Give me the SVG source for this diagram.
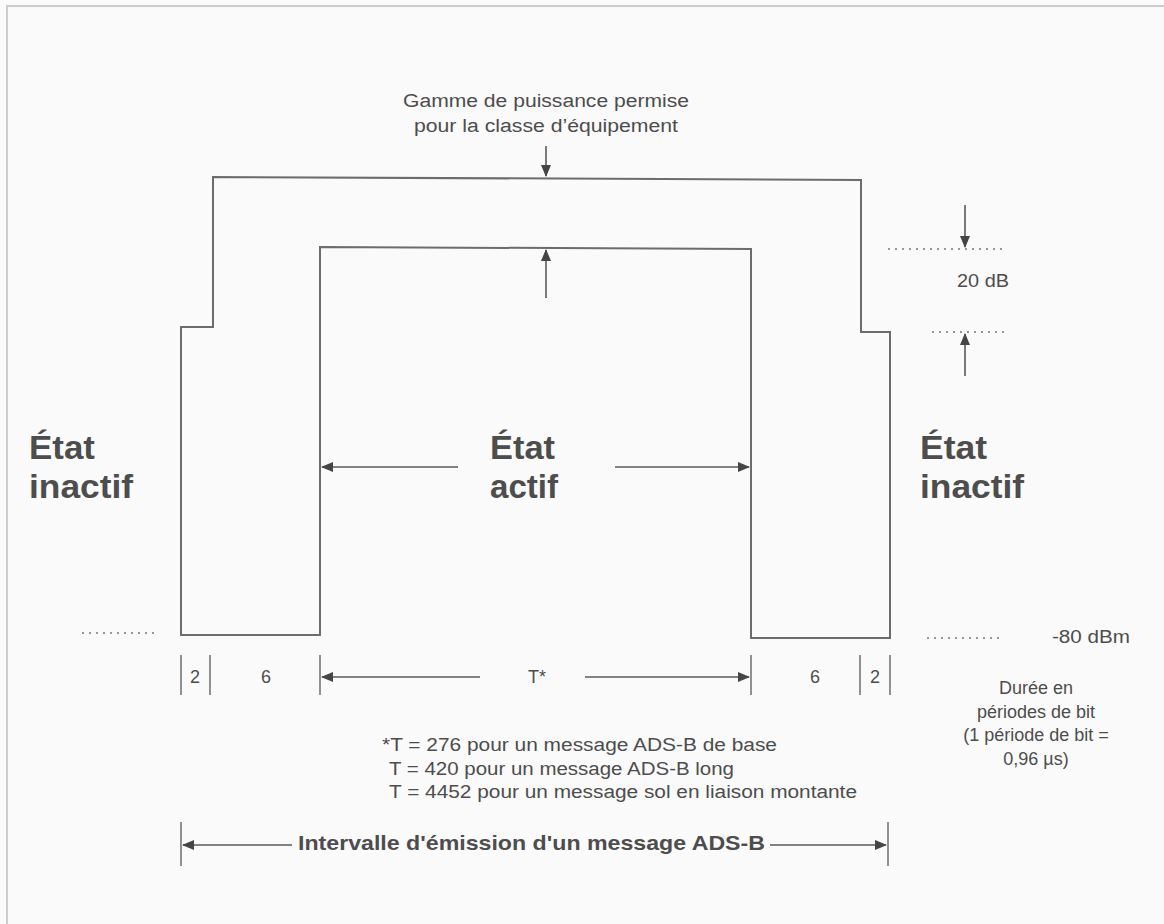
<svg xmlns="http://www.w3.org/2000/svg" width="1164" height="924" viewBox="0 0 1164 924">
<defs>
<marker id="ah" markerWidth="12" markerHeight="10" refX="11" refY="5" orient="auto" markerUnits="userSpaceOnUse">
<path d="M0,0 L12,5 L0,10 Z" fill="#454545"/>
</marker>
<style>
.t{font-family:"Liberation Sans",Arial,sans-serif;fill:#4d4d4d;font-size:18px}
.b{font-family:"Liberation Sans",Arial,sans-serif;fill:#4d4d4d;font-weight:bold}
.big{font-size:34px}
.wave{fill:none;stroke:#6c6c6c;stroke-width:2}
.arr{stroke:#5a5a5a;stroke-width:1.6;fill:none;marker-end:url(#ah)}
.tick{stroke:#777;stroke-width:1.6}
.dot{stroke:#777;stroke-width:1.5;stroke-dasharray:2 5;fill:none}
.frame{fill:none;stroke:#cdcdcd;stroke-width:2}
.mid{text-anchor:middle}
</style>
</defs>
<rect width="1164" height="924" fill="#fafafa"/>
<path class="frame" d="M7,924 V6 H1164"/>

<g id="waveform">
<polygon class="wave" points="181,635 181,327 213,327 213,177 861,180 861,332 890,332 890,638 751,638 751,249 320,247 320,635"/>
</g>

<g id="levels">
<line class="dot" x1="82" y1="633" x2="157" y2="633"/>
<line class="dot" x1="927" y1="638" x2="1000" y2="638"/>
<line class="dot" x1="888" y1="249" x2="1005" y2="249"/>
<line class="dot" x1="932" y1="332" x2="1005" y2="332"/>
</g>

<g id="connectors">
<line class="arr" x1="546" y1="146" x2="546" y2="176"/>
<line class="arr" x1="546" y1="298" x2="546" y2="250"/>
<line class="arr" x1="965" y1="205" x2="965" y2="247"/>
<line class="arr" x1="965" y1="376" x2="965" y2="334"/>
<line class="arr" x1="458" y1="467" x2="322" y2="467"/>
<line class="arr" x1="615" y1="467" x2="749" y2="467"/>
<line class="arr" x1="480" y1="677" x2="322" y2="677"/>
<line class="arr" x1="585" y1="677" x2="749" y2="677"/>
<line class="arr" x1="292" y1="845" x2="183" y2="845"/>
<line class="arr" x1="770" y1="845" x2="886" y2="845"/>
</g>

<g id="ticks">
<line class="tick" x1="181" y1="655" x2="181" y2="695"/>
<line class="tick" x1="210" y1="655" x2="210" y2="695"/>
<line class="tick" x1="320" y1="655" x2="320" y2="695"/>
<line class="tick" x1="751" y1="655" x2="751" y2="695"/>
<line class="tick" x1="860" y1="655" x2="860" y2="695"/>
<line class="tick" x1="890" y1="655" x2="890" y2="695"/>
<line class="tick" x1="181" y1="822" x2="181" y2="866"/>
<line class="tick" x1="888" y1="822" x2="888" y2="866"/>
</g>

<g id="power-range">
<text class="t mid" x="546" y="107" textLength="286" lengthAdjust="spacingAndGlyphs">Gamme de puissance permise</text>
<text class="t mid" x="546" y="132" textLength="264" lengthAdjust="spacingAndGlyphs">pour la classe d’équipement</text>
</g>

<g id="db20">
<text class="t" x="957" y="287" font-size="19" textLength="52" lengthAdjust="spacingAndGlyphs">20 dB</text>
</g>

<g id="dbm80">
<text class="t" x="1052" y="643" font-size="19" textLength="78" lengthAdjust="spacingAndGlyphs">-80 dBm</text>
</g>

<g id="state-left">
<text class="b big" x="29" y="459" textLength="66" lengthAdjust="spacingAndGlyphs">État</text>
<text class="b big" x="29" y="498" textLength="104" lengthAdjust="spacingAndGlyphs">inactif</text>
</g>
<g id="state-mid">
<text class="b big" x="490" y="459" textLength="65" lengthAdjust="spacingAndGlyphs">État</text>
<text class="b big" x="490" y="498" textLength="68" lengthAdjust="spacingAndGlyphs">actif</text>
</g>
<g id="state-right">
<text class="b big" x="920" y="459" textLength="67" lengthAdjust="spacingAndGlyphs">État</text>
<text class="b big" x="920" y="498" textLength="104" lengthAdjust="spacingAndGlyphs">inactif</text>
</g>

<g id="durations">
<text class="t mid" x="195" y="683" font-size="19">2</text>
<text class="t mid" x="266" y="683" font-size="19">6</text>
<text class="t mid" x="537" y="683" font-size="19">T*</text>
<text class="t mid" x="815" y="683" font-size="19">6</text>
<text class="t mid" x="875" y="683" font-size="19">2</text>
</g>

<g id="unit-note">
<text class="t mid" x="1036" y="694">Durée en</text>
<text class="t mid" x="1036" y="718">périodes de bit</text>
<text class="t mid" x="1036" y="741">(1 période de bit =</text>
<text class="t mid" x="1036" y="765">0,96 µs)</text>
</g>

<g id="t-notes">
<text class="t" x="382" y="751" font-size="19" textLength="395" lengthAdjust="spacingAndGlyphs">*T = 276 pour un message ADS-B de base</text>
<text class="t" x="389" y="775" font-size="19" textLength="345" lengthAdjust="spacingAndGlyphs">T = 420 pour un message ADS-B long</text>
<text class="t" x="389" y="798" font-size="19" textLength="468" lengthAdjust="spacingAndGlyphs">T = 4452 pour un message sol en liaison montante</text>
</g>

<g id="interval">
<text class="b" x="298" y="850" font-size="21" textLength="467" lengthAdjust="spacingAndGlyphs">Intervalle d'émission d'un message ADS-B</text>
</g>
</svg>
